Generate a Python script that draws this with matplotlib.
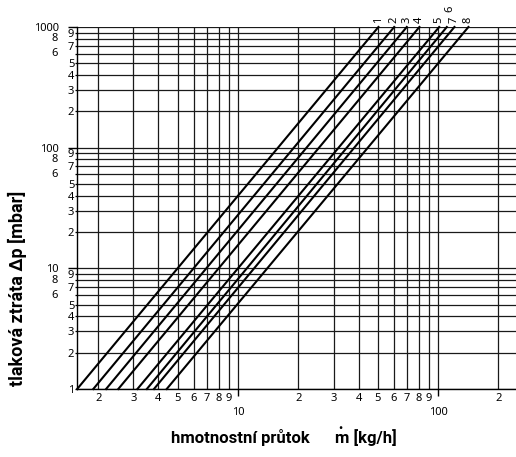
import numpy as np
import matplotlib
matplotlib.use("Agg")
import matplotlib.pyplot as plt
from matplotlib.ticker import FixedLocator, FixedFormatter
import matplotlib.transforms as mtransforms

# curve labels and flow (kg/h) read at 1 mbar and at 1000 mbar
curve_names = ["1", "2", "3", "4", "5", "6", "7", "8"]
flow_at_1 = [1.57, 1.89, 2.19, 2.52, 3.14, 3.50, 3.80, 4.40]
flow_at_1000 = [50.3, 60.3, 69.7, 80.6, 101.2, 110.5, 120.6, 141.7]
dp_ends = [1, 1000]

x_minor = [2, 3, 4, 5, 6, 7, 8, 9, 20, 30, 40, 50, 60, 70, 80, 90, 200]
x_minor_labels = ["2", "3", "4", "5", "6", "7", "8", "9",
                  "2", "3", "4", "5", "6", "7", "8", "9", "2"]
x_major = [10, 100]
x_major_labels = ["10", "100"]

y_minor = [1, 2, 3, 4, 5, 6, 7, 8, 9,
           20, 30, 40, 50, 60, 70, 80, 90,
           200, 300, 400, 500, 600, 700, 800, 900]
y_minor_labels = ["1"] + ["2", "3", "4", "5", "", "7", "", "9"] * 3
y_far = [6, 8, 60, 80, 600, 800]
y_far_labels = ["6", "8", "6", "8", "6", "8"]
y_major = [10, 100, 1000]
y_major_labels = ["10", "100", "1000"]

tick_font = "Noto Sans"
label_font = "Roboto"
fs = 8

fig = plt.figure(figsize=(5.16, 4.57), dpi=100)
ax = fig.add_axes([77 / 516, 68 / 457, 1 - 77 / 516, 362 / 457])
ax.set_xscale("log")
ax.set_yscale("log")
ax.set_xlim(1.567, 245)
ax.set_ylim(1, 1000)

gcol = "#1a1a1a"
for v in x_minor + x_major:
    ax.axvline(v, color=gcol, lw=0.9, zorder=1)
for v in y_minor + y_major:
    ax.axhline(v, color=gcol, lw=0.9, zorder=1)

for name, a, b in zip(curve_names, flow_at_1, flow_at_1000):
    ax.plot([a, b], dp_ends, color="black", lw=1.5, zorder=3, clip_on=False)
    if name == "6":
        off = (2, 11)
    else:
        off = (0, 3)
    ax.annotate(name, (b, dp_ends[1]), xytext=off, textcoords="offset points",
                rotation=90, ha="center", va="bottom", fontsize=fs,
                family=tick_font)

for s in ["top", "right"]:
    ax.spines[s].set_visible(False)
for s in ["left", "bottom"]:
    ax.spines[s].set_linewidth(1.0)

ax.xaxis.set_major_locator(FixedLocator(x_major))
ax.xaxis.set_major_formatter(FixedFormatter(x_major_labels))
ax.xaxis.set_minor_locator(FixedLocator(x_minor))
ax.xaxis.set_minor_formatter(FixedFormatter(x_minor_labels))
ax.yaxis.set_major_locator(FixedLocator(y_major))
ax.yaxis.set_major_formatter(FixedFormatter(y_major_labels))
ax.yaxis.set_minor_locator(FixedLocator(y_minor))
ax.yaxis.set_minor_formatter(FixedFormatter(y_minor_labels))

ax.tick_params(axis="x", which="major", length=5, width=1, pad=8, labelsize=fs)
ax.tick_params(axis="x", which="minor", length=0, pad=3, labelsize=fs)
ax.tick_params(axis="y", which="major", length=6.5, width=1, pad=6.5, labelsize=fs)
ax.tick_params(axis="y", which="minor", length=1.5, width=0.9, pad=0.5, labelsize=fs)
for lab in ax.get_xticklabels(which="both") + ax.get_yticklabels(which="both"):
    lab.set_family(tick_font)

trans = ax.get_yaxis_transform() + mtransforms.ScaledTranslation(-19 / 100, 0, fig.dpi_scale_trans)
for v, t in zip(y_far, y_far_labels):
    ax.text(0, v, t, transform=trans, ha="right", va="center",
            fontsize=fs, family=tick_font)

fig.text(17 / 516, 1 - 288 / 457, "tlaková ztráta Δp [mbar]", rotation=90,
         ha="center", va="center", fontsize=13, fontweight="bold", family=label_font)
fig.text(310 / 516, 1 - 438 / 457, "hmotnostní průtok", ha="right", va="center",
         fontsize=12, fontweight="bold", family=label_font)
fig.text(335 / 516, 1 - 438 / 457, "m [kg/h]", ha="left", va="center",
         fontsize=12, fontweight="bold", family=label_font)
fig.text(340 / 516, 1 - 429 / 457, "•", ha="center", va="center",
         fontsize=8, fontweight="bold", family=label_font)

fig.savefig("out.png", dpi=100)
